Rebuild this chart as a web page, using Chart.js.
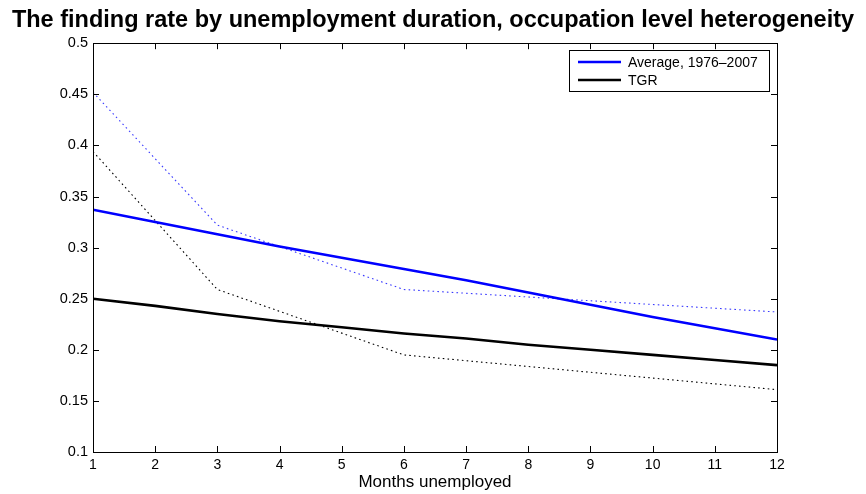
<!DOCTYPE html>
<html>
<head>
<meta charset="utf-8">
<script src="https://cdn.jsdelivr.net/npm/chart.js@4.4.0/dist/chart.umd.min.js"></script>
<style>
html, body { margin: 0; padding: 0; background: #fff; }
#wrap { width: 866px; height: 494px; }
</style>
</head>
<body>
<div id="wrap"><canvas id="monGraphe" width="866" height="494"></canvas></div>
<script>
// values
const months = [1, 2, 3, 4, 5, 6, 7, 8, 9, 10, 11, 12];
const avgRate = [0.337, 0.325, 0.313, 0.301, 0.290, 0.279, 0.268, 0.256, 0.244, 0.232, 0.221, 0.210];
const tgrRate = [0.250, 0.243, 0.235, 0.228, 0.222, 0.216, 0.211, 0.205, 0.200, 0.195, 0.190, 0.185];
const bandMonths = [1, 3, 6, 12];
const avgBand = [0.452, 0.322, 0.259, 0.237];
const tgrBand = [0.394, 0.259, 0.195, 0.161];
const xTicks = [1, 2, 3, 4, 5, 6, 7, 8, 9, 10, 11, 12];
const yTicks = [0.1, 0.15, 0.2, 0.25, 0.3, 0.35, 0.4, 0.45, 0.5];

const FONT = "'Liberation Sans', Arial, Helvetica, sans-serif";

function pts(xs, ys) {
    return xs.map((x, i) => ({ x: x, y: ys[i] }));
}

// box round the plot, inward ticks on all four sides, legend inside top right
const frame = {
    id: 'frame',
    afterDraw(chart) {
        const ctx = chart.ctx;
        const a = chart.chartArea;
        const xs = chart.scales.x, ys = chart.scales.y;
        const tl = 6;
        ctx.save();
        ctx.strokeStyle = '#000';
        ctx.lineWidth = 1;
        ctx.beginPath();
        xTicks.forEach(v => {
            const p = Math.round(xs.getPixelForValue(v)) + 0.5;
            ctx.moveTo(p, a.bottom); ctx.lineTo(p, a.bottom - tl);
            ctx.moveTo(p, a.top); ctx.lineTo(p, a.top + tl);
        });
        yTicks.forEach(v => {
            const p = Math.round(ys.getPixelForValue(v)) + 0.5;
            ctx.moveTo(a.left, p); ctx.lineTo(a.left + tl, p);
            ctx.moveTo(a.right, p); ctx.lineTo(a.right - tl, p);
        });
        ctx.stroke();
        ctx.strokeRect(Math.round(a.left) + 0.5, Math.round(a.top) + 0.5,
                       Math.round(a.right - a.left), Math.round(a.bottom - a.top));

        // legend
        const items = chart.data.datasets.filter(d => d.inLegend);
        const bx = 569.5, by = 50.5, bw = 200, bh = 41;
        ctx.fillStyle = '#fff';
        ctx.fillRect(bx, by, bw, bh);
        ctx.strokeRect(bx, by, bw, bh);
        ctx.font = '14px ' + FONT;
        ctx.textBaseline = 'middle';
        items.forEach((d, i) => {
            const y = 62 + i * 18;
            ctx.strokeStyle = d.borderColor;
            ctx.lineWidth = 2.5;
            ctx.beginPath();
            ctx.moveTo(578, y); ctx.lineTo(621, y);
            ctx.stroke();
            ctx.fillStyle = '#000';
            ctx.fillText(d.label, 628, y + 1);
        });
        ctx.restore();
    }
};

const ctx = document.getElementById('monGraphe');
const myChart = new Chart(ctx, {
    type: 'line',
    data: {
        datasets: [
            {
                label: 'Average, 1976\u20132007',
                data: pts(months, avgRate),
                borderColor: '#0000ff',
                borderWidth: 2.6,
                pointRadius: 0,
                inLegend: true
            },
            {
                label: 'TGR',
                data: pts(months, tgrRate),
                borderColor: '#000000',
                borderWidth: 2.6,
                pointRadius: 0,
                inLegend: true
            },
            {
                label: 'avg band',
                data: pts(bandMonths, avgBand),
                borderColor: '#3a3aff',
                borderWidth: 1.1,
                borderDash: [1.6, 3.2],
                pointRadius: 0
            },
            {
                label: 'tgr band',
                data: pts(bandMonths, tgrBand),
                borderColor: '#000000',
                borderWidth: 1.1,
                borderDash: [1.6, 3.2],
                pointRadius: 0
            }
        ]
    },
    options: {
        responsive: false,
        animation: false,
        layout: { padding: 0 },
        plugins: {
            legend: { display: false },
            tooltip: { enabled: false },
            title: {
                display: true,
                text: 'The finding rate by unemployment duration, occupation level heterogeneity',
                color: '#000',
                font: { family: FONT, size: 23.5, weight: 'bold' },
                padding: { top: 6, bottom: 9 }
            }
        },
        scales: {
            x: {
                type: 'linear',
                min: 1,
                max: 12,
                afterFit: s => { s.height = 42; },
                afterBuildTicks: s => { s.ticks = xTicks.map(v => ({ value: v })); },
                grid: { display: false, drawTicks: false },
                border: { display: false },
                ticks: { color: '#000', font: { family: FONT, size: 14 }, padding: 5, maxRotation: 0 },
                title: {
                    display: true,
                    text: 'Months unemployed',
                    color: '#000',
                    font: { family: FONT, size: 17 },
                    padding: { top: 0, bottom: 1 }
                }
            },
            y: {
                min: 0.1,
                max: 0.5,
                afterFit: s => { s.width = 93; },
                afterBuildTicks: s => { s.ticks = yTicks.map(v => ({ value: v })); },
                grid: { display: false, drawTicks: false },
                border: { display: false },
                ticks: {
                    color: '#000',
                    font: { family: FONT, size: 14.5 },
                    padding: 5,
                    callback: v => String(Number(v.toFixed(2)))
                }
            },
            // empty right-hand axis that only reserves the margin
            yr: {
                position: 'right',
                min: 0,
                max: 1,
                afterFit: s => { s.width = 89; },
                grid: { display: false, drawTicks: false },
                border: { display: false },
                ticks: { display: false }
            }
        }
    },
    plugins: [frame]
});
</script>
</body>
</html>
